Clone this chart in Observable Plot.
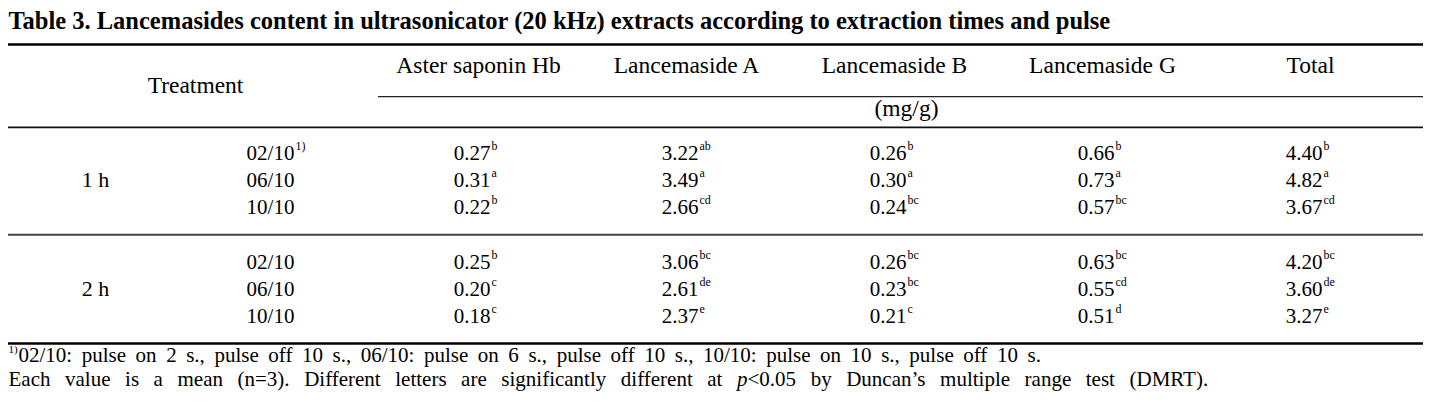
<!DOCTYPE html>
<html>
<head>
<meta charset="utf-8">
<script src="https://cdn.jsdelivr.net/npm/d3@7"></script>
<script src="https://cdn.jsdelivr.net/npm/@observablehq/plot@0.6"></script>
<style>
  html, body { margin: 0; padding: 0; background: #fff; }
  svg { display: block; }
</style>
</head>
<body>
<div id="chart"></div>
<script>
// ---- data ----
const title = "Table 3. Lancemasides content in ultrasonicator (20 kHz) extracts according to extraction times and pulse";
const treatmentLabel = "Treatment";
const unitLabel = "(mg/g)";
const columns = ["Aster saponin Hb", "Lancemaside A", "Lancemaside B", "Lancemaside G", "Total"];
const times = ["1 h", "2 h"];
const pulses = ["02/10", "06/10", "10/10"];
const pulseNoteMark = "1)";

const asterSaponinHb = [0.27, 0.31, 0.22, 0.25, 0.20, 0.18];
const asterSaponinHbLetters = ["b", "a", "b", "b", "c", "c"];
const lancemasideA = [3.22, 3.49, 2.66, 3.06, 2.61, 2.37];
const lancemasideALetters = ["ab", "a", "cd", "bc", "de", "e"];
const lancemasideB = [0.26, 0.30, 0.24, 0.26, 0.23, 0.21];
const lancemasideBLetters = ["b", "a", "bc", "bc", "bc", "c"];
const lancemasideG = [0.66, 0.73, 0.57, 0.63, 0.55, 0.51];
const lancemasideGLetters = ["b", "a", "bc", "bc", "cd", "d"];
const total = [4.40, 4.82, 3.67, 4.20, 3.60, 3.27];
const totalLetters = ["b", "a", "cd", "bc", "de", "e"];

const footnote1 = "02/10: pulse on 2 s., pulse off 10 s., 06/10: pulse on 6 s., pulse off 10 s., 10/10: pulse on 10 s., pulse off 10 s.";
const footnote2Parts = ["Each value is a mean (n=3). Different letters are significantly different at ", "p", "<0.05 by Duncan\u2019s multiple range test (DMRT)."];

// ---- layout (row slots on the y scale) ----
const series = [
  [asterSaponinHb, asterSaponinHbLetters],
  [lancemasideA, lancemasideALetters],
  [lancemasideB, lancemasideBLetters],
  [lancemasideG, lancemasideGLetters],
  [total, totalLetters]
];
const rowSlot = i => 8 + 2 * (i % 3) + 8 * Math.floor(i / 3);
const rows = d3.range(6).map(i => ({
  time: times[Math.floor(i / 3)],
  pulse: pulses[i % 3],
  slot: rowSlot(i)
}));
const groups = times.map((t, g) => ({time: t, slot: 10 + 8 * g}));
const cells = [];
columns.forEach((c, ci) => {
  const [vals, lets] = series[ci];
  vals.forEach((v, i) => cells.push({col: c, slot: rowSlot(i), value: v, letter: lets[i]}));
});

const serif = "'Liberation Serif', 'Times New Roman', Times, serif";
const FS = 21;
const HFS = 23.5;
const NFS = 21;

const svg = Plot.plot({
  width: 1431,
  height: 409,
  marginTop: 0,
  marginBottom: 0,
  marginLeft: 8,
  marginRight: 8,
  x: {type: "point", domain: ["pulse", ...columns], range: [270, 1310], padding: 0, axis: null},
  y: {type: "linear", domain: [0, 22], range: [44, 343], axis: null},
  style: {fontFamily: serif, background: "#fff", color: "#000", overflow: "visible"},
  marks: [
    // title
    Plot.text([title], {text: d => d, y: () => -1.69, frameAnchor: "left", textAnchor: "start",
      fontWeight: "bold", fontSize: 24.5, fill: "#000"}),
    // rules
    Plot.ruleY([0], {stroke: "#000", strokeWidth: 2.5}),
    Plot.ruleY([3.83], {stroke: "#222", strokeWidth: 1.2, insetLeft: 370}),
    Plot.ruleY([6.1], {stroke: "#111", strokeWidth: 1.8}),
    Plot.ruleY([14], {stroke: "#444", strokeWidth: 1.8}),
    Plot.ruleY([22], {stroke: "#000", strokeWidth: 2.5}),
    // header
    Plot.text(columns, {x: d => d, y: () => 1.55, text: d => d, fontSize: HFS, fill: "#000"}),
    Plot.text([treatmentLabel], {x: () => "pulse", dx: -75, y: () => 3, text: d => d, fontSize: HFS, fill: "#000"}),
    Plot.text([unitLabel], {x: () => "Lancemaside B", dx: 12, y: () => 4.7, text: d => d, fontSize: HFS, fill: "#000"}),
    // treatment labels
    Plot.text(groups, {x: () => "pulse", dx: -175, y: "slot", text: "time", fontSize: FS + 1, fill: "#000"}),
    Plot.text(rows, {x: () => "pulse", y: "slot", text: "pulse", fontSize: FS, fill: "#000"}),
    Plot.text(rows.slice(0, 1), {x: () => "pulse", dx: 25, dy: -7, y: "slot", text: () => pulseNoteMark,
      textAnchor: "start", fontSize: 12, fill: "#000"}),
    // values
    Plot.text(cells, {x: "col", y: "slot", text: d => d.value.toFixed(2), textAnchor: "end", dx: 12, fontSize: FS, fill: "#000"}),
    Plot.text(cells, {x: "col", y: "slot", text: "letter", textAnchor: "start", dx: 13, dy: -7, fontSize: 12, fill: "#000"}),
    // footnotes
    Plot.text([pulseNoteMark], {text: d => d, y: () => 22.88, dy: -6, frameAnchor: "left", textAnchor: "start", fontSize: 11, fill: "#000"}),
    Plot.text([footnote1], {text: d => d, y: () => 22.88, dx: 10, frameAnchor: "left", textAnchor: "start", fontSize: NFS, fill: "#000"}),
    Plot.text([footnote2Parts.join("")], {text: d => d, y: () => 24.65, frameAnchor: "left", textAnchor: "start", fontSize: NFS, fill: "#000"})
  ]
});

// italic "p", word spacing of the footnotes
d3.select(svg).selectAll("text").each(function () {
  if (this.textContent === footnote2Parts.join("")) {
    const el = d3.select(this);
    el.text(null);
    el.append("tspan").text(footnote2Parts[0]);
    el.append("tspan").attr("font-style", "italic").text(footnote2Parts[1]);
    el.append("tspan").text(footnote2Parts[2]);
    el.style("word-spacing", "9.3px");
  } else if (this.textContent === footnote1) {
    d3.select(this).style("word-spacing", "4.3px");
  }
});

document.getElementById("chart").appendChild(svg);
</script>
</body>
</html>
